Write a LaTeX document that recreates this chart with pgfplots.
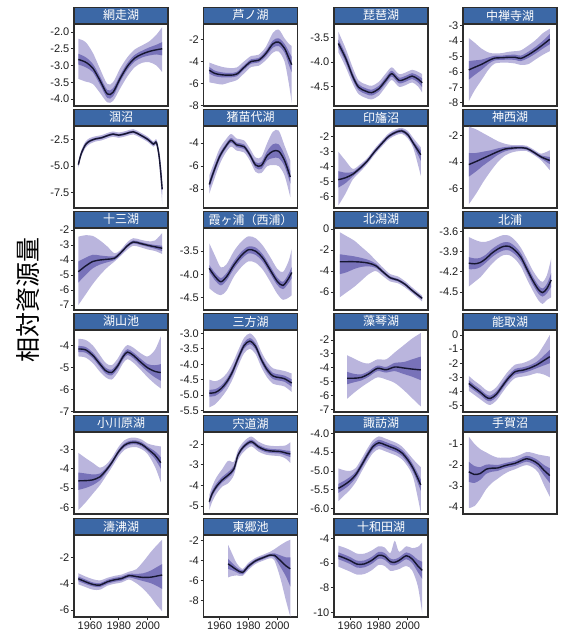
\documentclass[border=0pt]{standalone}
\usepackage{pgfplots}
\pgfplotsset{compat=1.18}
\usepackage{pgfplotstable}
\usepgfplotslibrary{fillbetween}
\usepackage{fontspec}
\setmainfont{Liberation Sans}
\newfontfamily\cjk{Noto Sans CJK JP}
\definecolor{stripc}{RGB}{60,104,166}
\definecolor{framec}{RGB}{45,45,45}
\definecolor{outerc}{RGB}{186,181,221}
\definecolor{innerc}{RGB}{120,114,185}
\definecolor{meanc}{RGB}{22,22,48}
\definecolor{tickc}{RGB}{30,30,30}

\pgfplotstableread{
x m il ih ol oh
1952 -2.82 -2.97 -2.65 -3.40 -2.20
1957 -2.90 -3.05 -2.75 -3.48 -2.30
1962 -3.08 -3.20 -2.95 -3.55 -2.62
1967 -3.45 -3.57 -3.33 -3.82 -3.10
1972 -3.85 -3.97 -3.73 -4.10 -3.55
1976 -3.80 -3.92 -3.68 -4.06 -3.50
1981 -3.38 -3.48 -3.28 -3.68 -3.08
1986 -3.02 -3.12 -2.92 -3.32 -2.75
1991 -2.78 -2.88 -2.68 -3.05 -2.52
1996 -2.66 -2.76 -2.56 -2.92 -2.40
2001 -2.58 -2.70 -2.46 -2.90 -2.28
2006 -2.53 -2.67 -2.38 -3.00 -2.08
2010 -2.50 -2.70 -2.30 -3.20 -1.85
}\tabA
\pgfplotstableread{
x m il ih ol oh
1953 -4.80 -5.10 -4.50 -5.90 -4.10
1957 -5.10 -5.35 -4.85 -6.00 -4.30
1962 -5.22 -5.45 -5.00 -6.10 -4.50
1967 -5.25 -5.45 -5.05 -5.90 -4.60
1972 -5.15 -5.35 -4.95 -5.70 -4.55
1977 -4.55 -4.75 -4.35 -5.10 -4.00
1982 -4.00 -4.20 -3.80 -4.50 -3.50
1987 -3.90 -4.10 -3.70 -4.40 -3.40
1992 -3.30 -3.55 -3.05 -3.90 -2.70
1997 -2.40 -2.75 -2.10 -3.20 -1.40
2001 -2.25 -2.60 -1.90 -3.10 -1.10
2005 -2.80 -3.20 -2.40 -4.00 -1.90
2008 -3.70 -4.30 -3.10 -6.00 -2.40
2010 -4.30 -5.00 -3.60 -7.80 -2.60
}\tabB
\pgfplotstableread{
x m il ih ol oh
1952 -3.62 -3.70 -3.54 -3.80 -3.38
1957 -3.92 -4.00 -3.84 -4.10 -3.72
1962 -4.30 -4.37 -4.23 -4.45 -4.12
1966 -4.52 -4.58 -4.46 -4.66 -4.38
1971 -4.60 -4.66 -4.54 -4.74 -4.46
1975 -4.63 -4.69 -4.57 -4.77 -4.49
1980 -4.55 -4.61 -4.49 -4.69 -4.41
1985 -4.37 -4.43 -4.31 -4.50 -4.23
1989 -4.24 -4.30 -4.18 -4.37 -4.11
1994 -4.38 -4.44 -4.32 -4.51 -4.25
1999 -4.34 -4.40 -4.28 -4.47 -4.21
2003 -4.29 -4.35 -4.23 -4.42 -4.16
2007 -4.35 -4.42 -4.28 -4.50 -4.20
2010 -4.43 -4.52 -4.34 -4.63 -4.25
}\tabC
\pgfplotstableread{
x m il ih ol oh
1953 -5.87 -6.50 -5.30 -7.90 -3.80
1957 -5.70 -6.20 -5.25 -7.20 -4.10
1962 -5.50 -5.85 -5.20 -6.50 -4.50
1967 -5.25 -5.45 -5.05 -5.80 -4.75
1971 -5.10 -5.25 -4.95 -5.45 -4.80
1976 -5.08 -5.22 -4.94 -5.40 -4.78
1980 -5.05 -5.20 -4.90 -5.40 -4.70
1985 -5.05 -5.22 -4.88 -5.45 -4.65
1989 -5.12 -5.30 -4.94 -5.55 -4.60
1994 -4.90 -5.10 -4.70 -5.50 -4.30
1999 -4.60 -4.82 -4.38 -5.20 -3.95
2004 -4.25 -4.50 -4.00 -4.90 -3.50
2009 -3.88 -4.20 -3.55 -4.65 -3.20
}\tabD
\pgfplotstableread{
x m il ih ol oh
1952 -4.85 -5.00 -4.70 -5.15 -4.55
1954 -3.80 -3.95 -3.65 -4.10 -3.50
1957 -2.95 -3.08 -2.82 -3.25 -2.65
1960 -2.60 -2.72 -2.48 -2.88 -2.32
1964 -2.40 -2.50 -2.30 -2.65 -2.15
1968 -2.30 -2.40 -2.20 -2.55 -2.05
1972 -2.10 -2.20 -2.00 -2.35 -1.85
1976 -1.95 -2.05 -1.85 -2.20 -1.70
1980 -2.05 -2.15 -1.95 -2.30 -1.80
1985 -1.90 -2.00 -1.80 -2.15 -1.65
1990 -1.73 -1.83 -1.63 -1.98 -1.48
1995 -2.05 -2.15 -1.95 -2.30 -1.80
2000 -2.45 -2.57 -2.33 -2.70 -2.20
2004 -2.90 -3.02 -2.78 -3.15 -2.65
2006 -2.75 -2.90 -2.60 -3.05 -2.45
2008 -4.20 -4.50 -3.90 -4.90 -3.60
2010 -7.20 -7.70 -6.70 -8.60 -6.00
}\tabE
\pgfplotstableread{
x m il ih ol oh
1953 -7.60 -7.90 -7.30 -8.40 -6.80
1956 -6.50 -6.80 -6.20 -7.30 -5.80
1960 -5.20 -5.45 -4.95 -5.90 -4.50
1964 -4.35 -4.55 -4.15 -4.90 -3.75
1968 -3.75 -3.95 -3.55 -4.30 -3.20
1972 -4.15 -4.35 -3.95 -4.65 -3.60
1977 -4.30 -4.50 -4.10 -4.80 -3.75
1981 -5.00 -5.20 -4.80 -5.50 -4.45
1985 -5.90 -6.15 -5.65 -6.50 -5.25
1989 -5.95 -6.25 -5.65 -6.60 -5.20
1993 -5.10 -5.50 -4.70 -6.00 -4.00
1997 -4.70 -5.30 -4.10 -5.90 -3.00
2001 -4.70 -5.30 -4.10 -6.00 -2.90
2005 -5.50 -6.00 -5.00 -6.80 -4.20
2009 -6.95 -7.50 -6.40 -8.70 -5.50
}\tabF
\pgfplotstableread{
x m il ih ol oh
1952 -4.87 -5.40 -4.30 -6.60 -3.00
1957 -4.74 -5.10 -4.40 -5.80 -3.60
1962 -4.50 -4.65 -4.35 -4.85 -4.15
1967 -4.10 -4.22 -3.98 -4.35 -3.85
1972 -3.62 -3.72 -3.52 -3.82 -3.42
1977 -3.00 -3.10 -2.90 -3.20 -2.80
1982 -2.45 -2.55 -2.35 -2.65 -2.25
1987 -1.95 -2.05 -1.85 -2.15 -1.75
1992 -1.68 -1.78 -1.58 -1.88 -1.48
1996 -1.60 -1.70 -1.50 -1.80 -1.40
2000 -1.85 -1.97 -1.73 -2.10 -1.60
2004 -2.45 -2.60 -2.30 -2.80 -2.10
2009 -3.20 -3.60 -2.90 -4.60 -2.70
}\tabG
\pgfplotstableread{
x m il ih ol oh
1953 -4.18 -5.10 -3.30 -7.20 -1.30
1958 -3.95 -4.70 -3.30 -6.40 -1.50
1963 -3.70 -4.25 -3.20 -5.50 -1.80
1968 -3.45 -3.85 -3.10 -4.70 -2.10
1973 -3.20 -3.45 -2.95 -4.00 -2.40
1978 -3.00 -3.18 -2.85 -3.50 -2.60
1983 -2.93 -3.05 -2.80 -3.25 -2.70
1988 -2.90 -3.00 -2.80 -3.15 -2.70
1993 -2.95 -3.05 -2.85 -3.15 -2.75
1998 -3.25 -3.35 -3.15 -3.45 -3.05
2003 -3.60 -3.72 -3.48 -3.85 -3.35
2009 -3.87 -4.15 -3.60 -4.60 -3.10
}\tabH
\pgfplotstableread{
x m il ih ol oh
1952 -4.78 -5.50 -4.10 -7.00 -2.45
1957 -4.40 -5.00 -3.85 -6.30 -2.35
1962 -4.10 -4.55 -3.65 -5.60 -2.40
1967 -4.00 -4.30 -3.70 -5.00 -2.70
1972 -3.95 -4.15 -3.75 -4.50 -3.10
1977 -3.88 -4.00 -3.75 -4.10 -3.55
1981 -3.55 -3.65 -3.45 -3.75 -3.35
1986 -3.05 -3.15 -2.95 -3.30 -2.80
1990 -2.80 -2.90 -2.70 -3.05 -2.55
1995 -2.90 -3.00 -2.80 -3.15 -2.65
2000 -3.02 -3.12 -2.92 -3.30 -2.75
2005 -3.12 -3.25 -3.00 -3.40 -2.70
2010 -3.22 -3.40 -3.05 -3.60 -2.20
}\tabI
\pgfplotstableread{
x m il ih ol oh
1953 -3.87 -3.95 -3.80 -4.30 -3.33
1957 -4.05 -4.13 -3.97 -4.40 -3.60
1961 -4.16 -4.24 -4.08 -4.45 -3.85
1965 -4.05 -4.13 -3.97 -4.35 -3.78
1970 -3.80 -3.88 -3.72 -4.05 -3.50
1975 -3.60 -3.68 -3.52 -3.85 -3.30
1980 -3.47 -3.55 -3.40 -3.72 -3.18
1985 -3.50 -3.58 -3.42 -3.75 -3.22
1990 -3.65 -3.73 -3.57 -3.90 -3.38
1995 -3.90 -3.98 -3.82 -4.15 -3.62
2000 -4.15 -4.23 -4.07 -4.42 -3.88
2004 -4.24 -4.32 -4.16 -4.55 -3.95
2008 -4.08 -4.18 -3.98 -4.50 -3.70
2010 -3.96 -4.08 -3.84 -4.45 -3.45
}\tabJ
\pgfplotstableread{
x m il ih ol oh
1953 -3.11 -4.30 -2.40 -6.50 -0.30
1958 -3.11 -4.10 -2.50 -6.00 -0.70
1963 -3.11 -3.80 -2.60 -5.50 -1.10
1968 -3.15 -3.60 -2.75 -4.90 -1.70
1973 -3.25 -3.55 -2.95 -4.30 -2.30
1978 -3.50 -3.70 -3.30 -4.00 -3.00
1983 -4.10 -4.25 -3.95 -4.50 -3.70
1988 -4.65 -4.78 -4.52 -5.00 -4.30
1993 -4.85 -4.97 -4.73 -5.15 -4.50
1998 -5.25 -5.37 -5.13 -5.55 -4.95
2003 -5.85 -5.97 -5.73 -6.10 -5.55
2010 -6.60 -6.72 -6.48 -6.90 -6.35
}\tabK
\pgfplotstableread{
x m il ih ol oh
1953 -4.07 -4.16 -3.98 -4.42 -3.68
1957 -4.08 -4.16 -4.00 -4.35 -3.72
1961 -4.06 -4.13 -3.99 -4.28 -3.75
1965 -4.00 -4.06 -3.94 -4.18 -3.75
1969 -3.92 -3.98 -3.86 -4.08 -3.72
1973 -3.86 -3.92 -3.80 -4.00 -3.68
1977 -3.82 -3.88 -3.76 -3.95 -3.65
1981 -3.82 -3.88 -3.76 -3.95 -3.66
1985 -3.88 -3.94 -3.82 -4.01 -3.73
1989 -3.98 -4.04 -3.92 -4.12 -3.84
1993 -4.15 -4.21 -4.09 -4.30 -4.00
1997 -4.32 -4.38 -4.26 -4.47 -4.17
2001 -4.46 -4.52 -4.40 -4.62 -4.30
2004 -4.51 -4.57 -4.45 -4.68 -4.35
2007 -4.45 -4.52 -4.38 -4.62 -4.25
2010 -4.32 -4.42 -4.22 -4.58 -4.00
}\tabL
\pgfplotstableread{
x m il ih ol oh
1952 -4.16 -4.30 -4.02 -4.50 -3.70
1957 -4.20 -4.33 -4.07 -4.55 -3.75
1962 -4.45 -4.58 -4.32 -4.80 -4.00
1967 -4.85 -4.98 -4.72 -5.20 -4.45
1971 -5.15 -5.28 -5.02 -5.45 -4.80
1975 -5.23 -5.36 -5.10 -5.55 -4.90
1979 -4.95 -5.08 -4.82 -5.25 -4.62
1983 -4.50 -4.63 -4.37 -4.80 -4.18
1986 -4.30 -4.43 -4.17 -4.62 -3.98
1990 -4.45 -4.58 -4.32 -4.78 -4.10
1995 -4.75 -4.90 -4.60 -5.10 -4.35
2000 -5.02 -5.20 -4.85 -5.45 -4.50
2005 -5.18 -5.45 -4.90 -5.75 -4.20
2009 -5.23 -5.60 -4.85 -5.95 -3.60
}\tabM
\pgfplotstableread{
x m il ih ol oh
1953 -4.94 -5.05 -4.83 -5.40 -4.50
1957 -4.92 -5.03 -4.81 -5.30 -4.55
1961 -4.80 -4.90 -4.70 -5.10 -4.48
1965 -4.58 -4.68 -4.48 -4.85 -4.30
1969 -4.25 -4.35 -4.15 -4.50 -3.98
1973 -3.80 -3.90 -3.70 -4.05 -3.55
1977 -3.40 -3.50 -3.30 -3.65 -3.15
1981 -3.25 -3.35 -3.15 -3.50 -3.00
1985 -3.42 -3.52 -3.32 -3.67 -3.17
1989 -3.85 -3.95 -3.75 -4.10 -3.60
1993 -4.18 -4.28 -4.08 -4.43 -3.93
1997 -4.38 -4.48 -4.28 -4.63 -4.13
2001 -4.43 -4.53 -4.33 -4.68 -4.18
2005 -4.47 -4.57 -4.37 -4.72 -4.22
2010 -4.61 -4.73 -4.49 -4.90 -4.30
}\tabN
\pgfplotstableread{
x m il ih ol oh
1958 -4.76 -5.20 -4.30 -6.25 -3.10
1963 -4.76 -5.05 -4.45 -5.80 -3.35
1968 -4.70 -4.92 -4.48 -5.40 -3.60
1973 -4.45 -4.65 -4.25 -5.05 -3.70
1979 -4.05 -4.25 -3.85 -4.70 -3.40
1985 -4.15 -4.35 -3.95 -4.85 -3.40
1991 -3.95 -4.25 -3.65 -5.10 -2.90
1997 -4.02 -4.45 -3.60 -5.60 -2.40
2003 -4.10 -4.65 -3.40 -6.20 -1.90
2009 -4.16 -4.90 -3.20 -6.80 -1.50
}\tabO
\pgfplotstableread{
x m il ih ol oh
1953 -3.43 -3.65 -3.20 -3.95 -2.90
1957 -3.75 -3.95 -3.55 -4.25 -3.25
1961 -4.05 -4.25 -3.85 -4.55 -3.55
1965 -4.40 -4.60 -4.20 -4.85 -3.90
1968 -4.49 -4.69 -4.29 -4.95 -4.00
1972 -4.20 -4.40 -4.00 -4.65 -3.70
1976 -3.65 -3.85 -3.45 -4.10 -3.15
1980 -3.10 -3.30 -2.90 -3.55 -2.60
1985 -2.60 -2.80 -2.40 -3.05 -2.10
1990 -2.50 -2.70 -2.30 -2.95 -2.00
1995 -2.35 -2.55 -2.15 -2.85 -1.80
2000 -2.12 -2.35 -1.90 -2.70 -1.45
2005 -1.80 -2.15 -1.45 -2.80 -0.70
2009 -1.54 -2.00 -1.05 -3.00 0.00
}\tabP
\pgfplotstableread{
x m il ih ol oh
1952 -4.63 -5.10 -4.20 -6.15 -3.18
1957 -4.62 -5.00 -4.25 -5.75 -3.45
1962 -4.58 -4.85 -4.30 -5.30 -3.70
1967 -4.42 -4.60 -4.25 -4.85 -3.95
1971 -4.10 -4.22 -3.98 -4.40 -3.80
1975 -3.70 -3.80 -3.60 -3.95 -3.45
1980 -3.10 -3.20 -3.00 -3.35 -2.85
1984 -2.78 -2.88 -2.68 -3.02 -2.52
1988 -2.65 -2.75 -2.55 -2.90 -2.40
1992 -2.64 -2.74 -2.54 -2.88 -2.40
1996 -2.75 -2.86 -2.64 -3.00 -2.50
2000 -2.98 -3.10 -2.86 -3.25 -2.70
2005 -3.30 -3.50 -3.10 -3.90 -2.80
2009 -3.69 -4.00 -3.40 -4.70 -2.85
}\tabQ
\pgfplotstableread{
x m il ih ol oh
1953 -4.79 -4.90 -4.65 -5.20 -4.45
1955 -4.40 -4.52 -4.25 -4.80 -4.05
1958 -4.05 -4.17 -3.90 -4.40 -3.60
1962 -3.73 -3.85 -3.58 -4.05 -3.20
1966 -3.50 -3.62 -3.35 -3.90 -2.80
1970 -3.20 -3.32 -3.05 -3.50 -2.85
1973 -2.50 -2.60 -2.40 -2.75 -2.25
1977 -2.10 -2.20 -2.00 -2.35 -1.85
1982 -1.87 -1.97 -1.77 -2.10 -1.62
1987 -2.12 -2.22 -2.02 -2.35 -1.87
1992 -2.28 -2.38 -2.18 -2.50 -2.03
1997 -2.33 -2.43 -2.23 -2.55 -2.08
2002 -2.35 -2.45 -2.25 -2.58 -2.08
2006 -2.42 -2.55 -2.30 -2.70 -2.05
2009 -2.47 -2.62 -2.32 -2.90 -1.90
}\tabR
\pgfplotstableread{
x m il ih ol oh
1952 -5.46 -5.58 -5.34 -5.80 -4.93
1956 -5.37 -5.48 -5.26 -5.65 -4.98
1960 -5.26 -5.36 -5.16 -5.50 -5.00
1964 -5.10 -5.18 -5.02 -5.30 -4.92
1968 -4.85 -4.93 -4.77 -5.02 -4.68
1972 -4.58 -4.66 -4.50 -4.75 -4.41
1976 -4.35 -4.43 -4.27 -4.52 -4.18
1980 -4.25 -4.33 -4.17 -4.42 -4.08
1984 -4.30 -4.38 -4.22 -4.47 -4.13
1988 -4.36 -4.44 -4.28 -4.53 -4.19
1992 -4.42 -4.50 -4.34 -4.59 -4.25
1996 -4.52 -4.60 -4.44 -4.69 -4.35
2000 -4.70 -4.79 -4.61 -4.88 -4.52
2004 -4.95 -5.05 -4.85 -5.20 -4.70
2009 -5.37 -5.52 -5.22 -6.10 -4.90
}\tabS
\pgfplotstableread{
x m il ih ol oh
1953 -2.32 -2.80 -1.85 -4.05 -0.65
1957 -2.45 -2.85 -2.05 -3.95 -1.00
1961 -2.40 -2.70 -2.10 -3.60 -1.25
1965 -2.20 -2.42 -1.98 -3.15 -1.40
1969 -2.15 -2.32 -1.98 -2.85 -1.55
1973 -2.14 -2.28 -2.00 -2.65 -1.65
1977 -2.05 -2.17 -1.93 -2.45 -1.65
1981 -1.98 -2.10 -1.86 -2.30 -1.65
1985 -1.92 -2.04 -1.80 -2.20 -1.60
1989 -1.80 -1.93 -1.67 -2.08 -1.50
1993 -1.70 -1.84 -1.56 -2.00 -1.38
1997 -1.78 -1.93 -1.63 -2.10 -1.42
2001 -1.95 -2.12 -1.78 -2.35 -1.50
2005 -2.25 -2.50 -2.00 -2.95 -1.55
2009 -2.50 -2.85 -2.15 -3.50 -1.60
}\tabT
\pgfplotstableread{
x m il ih ol oh
1952 -3.62 -3.80 -3.45 -4.05 -3.20
1957 -3.85 -4.02 -3.68 -4.25 -3.45
1962 -4.05 -4.20 -3.90 -4.45 -3.65
1967 -4.10 -4.25 -3.95 -4.45 -3.75
1972 -3.85 -4.00 -3.70 -4.15 -3.55
1977 -3.70 -3.85 -3.55 -4.00 -3.40
1982 -3.60 -3.75 -3.45 -3.90 -3.30
1987 -3.38 -3.52 -3.24 -3.68 -3.08
1992 -3.45 -3.65 -3.25 -3.95 -2.90
1997 -3.52 -3.80 -3.20 -4.40 -2.30
2002 -3.50 -3.95 -3.00 -5.00 -1.60
2006 -3.42 -4.15 -2.75 -5.60 -1.10
2010 -3.33 -4.40 -2.50 -6.10 -0.65
}\tabU
\pgfplotstableread{
x m il ih ol oh
1966 -4.35 -4.85 -3.85 -5.70 -2.45
1969 -4.65 -5.00 -4.30 -5.55 -3.40
1972 -4.95 -5.20 -4.70 -5.50 -4.30
1976 -5.20 -5.40 -5.00 -5.55 -4.85
1980 -4.60 -4.78 -4.42 -4.95 -4.25
1985 -4.05 -4.20 -3.90 -4.35 -3.75
1990 -3.75 -3.90 -3.60 -4.05 -3.45
1995 -3.48 -3.62 -3.34 -3.80 -3.15
1998 -3.50 -3.70 -3.30 -4.00 -2.90
2002 -4.00 -4.60 -3.50 -5.70 -2.50
2006 -4.55 -5.60 -3.70 -8.00 -2.15
2009 -4.84 -6.60 -3.70 -9.60 -1.95
}\tabV
\pgfplotstableread{
x m il ih ol oh
1952 -5.42 -5.70 -5.15 -6.30 -4.60
1956 -5.60 -5.88 -5.32 -6.50 -4.75
1960 -5.80 -6.08 -5.52 -6.70 -4.95
1965 -6.10 -6.38 -5.82 -6.95 -5.25
1970 -6.08 -6.36 -5.80 -6.90 -5.25
1975 -5.80 -6.08 -5.52 -6.60 -5.00
1980 -5.38 -5.65 -5.10 -6.15 -4.65
1984 -5.48 -5.75 -5.20 -6.25 -4.75
1988 -5.90 -6.15 -5.65 -6.65 -5.20
1991 -5.95 -6.20 -5.70 -6.60 -4.20
1994 -5.80 -6.05 -5.55 -6.50 -5.10
1999 -5.42 -5.70 -5.15 -6.25 -4.65
2003 -5.68 -6.00 -5.35 -6.60 -4.80
2007 -6.25 -6.75 -5.75 -7.90 -4.70
2010 -6.60 -7.30 -5.90 -10.10 -4.35
}\tabW

\pgfplotsset{
  every axis title/.style={at={(0.5,1)}, anchor=south, fill=stripc, draw=framec,
      line width=1.1pt, text=white, minimum width=94pt, minimum height=16pt,
      inner sep=0pt, font=\cjk\fontsize{12}{12}\selectfont},
  panel/.style={
    scale only axis, width=94pt, height=82pt, anchor=south west,
    xmin=1949, xmax=2014, xtick=\empty,
    axis line style={draw=framec, line width=1.1pt},
    tick style={draw=framec, line width=0.8pt},
    tick align=outside, major tick length=3pt,
    ytick pos=left, xtick pos=bottom,
    /pgf/number format/assume math mode=true,
    /pgf/number format/1000 sep={},
    yticklabel style={font=\fontsize{11}{11}\selectfont, text=tickc, inner sep=1.5pt},
    xticklabel style={font=\fontsize{11}{11}\selectfont, text=tickc, inner sep=2pt},
  },
  dec/.style={yticklabel style={/pgf/number format/.cd, fixed, fixed zerofill, precision=1}},
  bottomx/.style={xtick={1960,1980,2000}},
}

\newcommand{\panel}[8]{%
\begin{axis}[panel, at={(#1,#2)}, ymin=#4, ymax=#5, ytick={#6}, title={#3}, #8]
\addplot[name path=oh, draw=none, smooth] table[x=x,y=oh]{#7};
\addplot[name path=ol, draw=none, smooth] table[x=x,y=ol]{#7};
\addplot[fill=outerc, draw=none] fill between[of=oh and ol];
\addplot[name path=ih, draw=none, smooth] table[x=x,y=ih]{#7};
\addplot[name path=il, draw=none, smooth] table[x=x,y=il]{#7};
\addplot[fill=innerc, draw=none] fill between[of=ih and il];
\addplot[meanc, line width=1.4pt, smooth] table[x=x,y=m]{#7};
\end{axis}}

\begin{document}
\begin{tikzpicture}
\panel{74pt}{-106pt}{網走湖}{-4.21}{-1.76}{-4,-3.5,-3,-2.5,-2}{\tabA}{dec}
\panel{203.5pt}{-106pt}{芦ノ湖}{-8.05}{-0.6}{-8,-6,-4,-2}{\tabB}{}
\panel{334pt}{-106pt}{琵琶湖}{-4.905}{-3.22}{-4.5,-4,-3.5}{\tabC}{dec}
\panel{463pt}{-106pt}{中禅寺湖}{-8.21}{-2.89}{-8,-7,-6,-5,-4,-3}{\tabD}{}
\panel{74pt}{-208pt}{涸沼}{-8.97}{-1.18}{-7.5,-5,-2.5}{\tabE}{dec}
\panel{203.5pt}{-208pt}{猪苗代湖}{-9.65}{-2.5}{-8,-6,-4}{\tabF}{}
\panel{334pt}{-208pt}{印旛沼}{-6.77}{-1.27}{-6,-5,-4,-3,-2}{\tabG}{}
\panel{463pt}{-208pt}{神西湖}{-7.48}{-1.25}{-6,-4,-2}{\tabH}{}
\panel{74pt}{-310pt}{十三湖}{-7.33}{-1.87}{-7,-6,-5,-4,-3,-2}{\tabI}{}
\panel{203.5pt}{-310pt}{霞ヶ浦（西浦）}{-4.77}{-3.0}{-4.5,-4,-3.5}{\tabJ}{dec}
\panel{334pt}{-310pt}{北潟湖}{-7.71}{0.1}{-6,-4,-2,0}{\tabK}{}
\panel{463pt}{-310pt}{北浦}{-4.77}{-3.545}{-4.5,-4.2,-3.9,-3.6}{\tabL}{dec}
\panel{74pt}{-412pt}{湖山池}{-7.02}{-3.3}{-7,-6,-5,-4}{\tabM}{}
\panel{203.5pt}{-412pt}{三方湖}{-5.55}{-2.89}{-5.5,-5,-4.5,-4,-3.5,-3}{\tabN}{dec}
\panel{334pt}{-412pt}{藻琴湖}{-7.2}{-1.28}{-7,-6,-5,-4,-3,-2}{\tabO}{}
\panel{463pt}{-412pt}{能取湖}{-5.45}{0.35}{-5,-4,-3,-2,-1,0}{\tabP}{}
\panel{74pt}{-514pt}{小川原湖}{-6.35}{-2.1}{-6,-5,-4,-3}{\tabQ}{}
\panel{203.5pt}{-514pt}{宍道湖}{-5.39}{-1.4}{-5,-4,-3,-2}{\tabR}{}
\panel{334pt}{-514pt}{諏訪湖}{-6.14}{-3.965}{-6,-5.5,-5,-4.5,-4}{\tabS}{dec}
\panel{463pt}{-514pt}{手賀沼}{-4.33}{-0.43}{-4,-3,-2,-1}{\tabT}{}
\panel{74pt}{-617pt}{濤沸湖}{-6.53}{-0.29}{-6,-4,-2}{\tabU}{bottomx}
\panel{203.5pt}{-617pt}{東郷池}{-9.64}{-1.48}{-8,-6,-4,-2}{\tabV}{bottomx}
\panel{334pt}{-617pt}{十和田湖}{-10.38}{-3.74}{-10,-8,-6,-4}{\tabW}{bottomx}
\node[rotate=90, font=\cjk\fontsize{25}{25}\selectfont, text=black] at (28pt,-300pt) {相対資源量};
\pgfresetboundingbox
\useasboundingbox (0pt,0pt) rectangle (567pt,-634pt);
\end{tikzpicture}
\end{document}
